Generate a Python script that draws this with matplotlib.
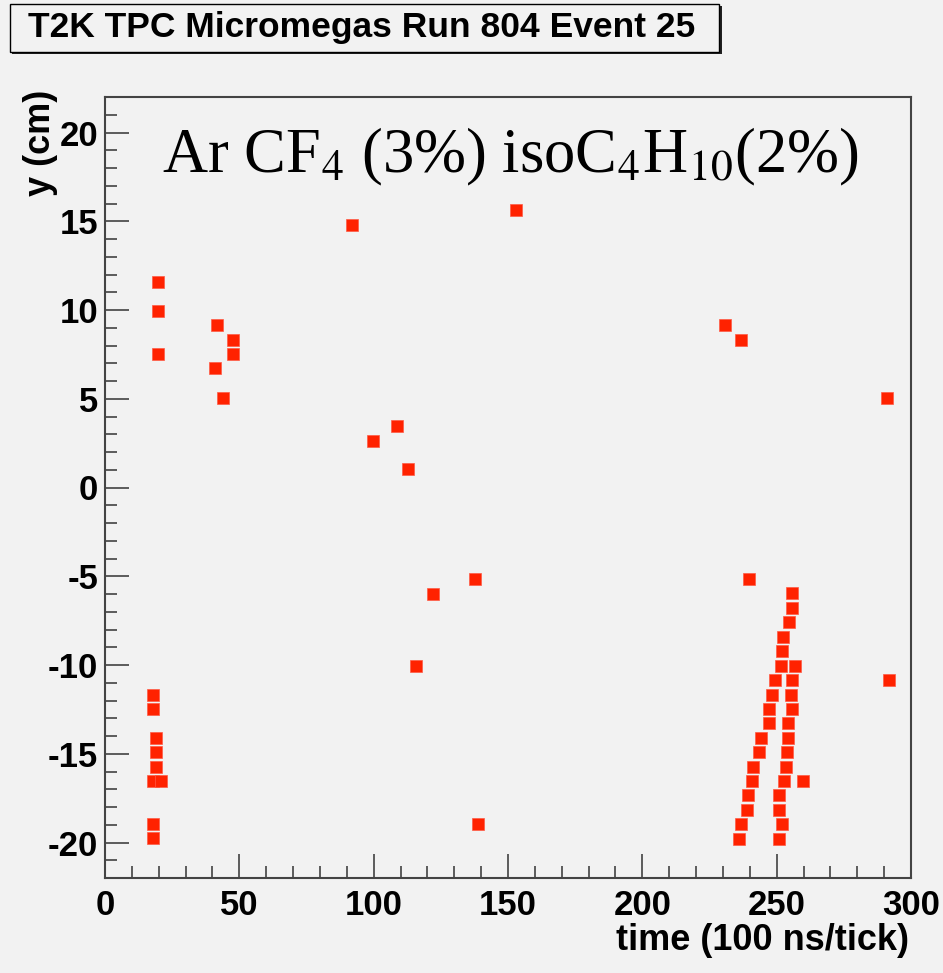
import matplotlib.pyplot as plt
from matplotlib.patches import Rectangle
from matplotlib.ticker import MultipleLocator

# hit positions read from the event display
time_tick = [19.8, 19.8, 19.8, 41.8, 47.75, 47.75, 40.8, 43.8,
             18.0, 18.0, 18.9, 18.9, 18.9, 18.0, 21.0, 18.0, 18.0,
             91.8, 152.8, 108.8, 99.7, 112.9, 137.8, 121.9, 115.9, 138.8,
             230.8, 236.8, 290.9, 291.9, 239.8, 259.8,
             255.8, 255.8, 254.7, 252.4, 251.8, 251.5, 256.8, 249.3, 255.8,
             248.2, 255.3, 247.1, 255.7, 247.2, 254.2, 244.3, 254.2,
             243.3, 253.8, 241.3, 253.3, 240.8, 252.8, 239.3, 250.8,
             238.8, 251.0, 236.9, 251.8, 235.8, 250.8]
y_cm = [11.57, 9.95, 7.5, 9.14, 8.32, 7.5, 6.71, 5.07,
        -11.68, -12.47, -14.1, -14.9, -15.72, -16.53, -16.53, -18.95, -19.76,
        14.81, 15.64, 3.46, 2.64, 1.03, -5.15, -5.98, -10.05, -18.97,
        9.14, 8.32, 5.07, -10.84, -5.13, -16.54,
        -5.96, -6.77, -7.6, -8.41, -9.2, -10.03, -10.03, -10.84, -10.84,
        -11.67, -11.67, -12.47, -12.47, -13.29, -13.29, -14.1, -14.1,
        -14.9, -14.9, -15.73, -15.73, -16.54, -16.54, -17.33, -17.33,
        -18.16, -18.16, -18.97, -18.97, -19.79, -19.79]

titel = "T2K TPC Micromegas Run 804 Event 25"
gas = r"Ar CF$_4$ (3%) isoC$_4$H$_{10}$(2%)"

plt.rcParams['font.family'] = ['Liberation Sans', 'DejaVu Sans']
plt.rcParams['mathtext.fontset'] = 'stix'
plt.rcParams['axes.unicode_minus'] = False

bg = '#f2f2f2'
W, H = 943, 973
fig = plt.figure(figsize=(9.43, 9.73), dpi=100, facecolor=bg)
ax = fig.add_axes([105/W, 1-878/H, (911-105)/W, (878-97)/H], facecolor=bg)

ax.plot(time_tick, y_cm, 's', color='#ff2200', markersize=8.3,
        markeredgecolor='#ff5a45', markeredgewidth=0.5, linestyle='none')

ax.set_xlim(0, 300)
ax.set_ylim(-22, 22)
ax.xaxis.set_major_locator(MultipleLocator(50))
ax.xaxis.set_minor_locator(MultipleLocator(10))
ax.yaxis.set_major_locator(MultipleLocator(5))
ax.yaxis.set_minor_locator(MultipleLocator(1))
ax.tick_params(which='both', direction='in', top=False, right=False,
               color='#333333', width=1.1, labelsize=25)
ax.tick_params(which='major', length=17)
ax.tick_params(which='minor', length=8.5)
ax.tick_params(axis='x', pad=8)
ax.tick_params(axis='y', pad=5)
for lbl in ax.get_xticklabels() + ax.get_yticklabels():
    lbl.set_fontweight('bold')
for s in ax.spines.values():
    s.set_color('#444444')
    s.set_linewidth(1.5)

# gas mixture label
ax.text(511/W, 1-172/H, gas, transform=fig.transFigure, ha='center',
        va='baseline', fontsize=45, fontweight='normal',
        family=['Liberation Serif', 'DejaVu Serif'])

# axis titles (ROOT style, right aligned)
fig.text(909/W, 1-940/H, 'time (100 ns/tick)', ha='right', va='center',
         fontsize=26, fontweight='bold')
fig.text(40/W, 1-90/H, 'y (cm)', ha='center', va='top', rotation=90,
         fontsize=26, fontweight='bold')

# title box with shadow
fig.patches.append(Rectangle((12/W, 1-54/H), 710/W, 48/H, transform=fig.transFigure,
                             facecolor='#222222', edgecolor='none', figure=fig))
fig.patches.append(Rectangle((10/W, 1-52/H), 709/W, 48/H, transform=fig.transFigure,
                             facecolor=bg, edgecolor='black', linewidth=1, figure=fig))
fig.text(28/W, 1-28/H, titel, ha='left', va='center', fontsize=25.5,
         fontweight='bold')

plt.savefig('out.png', dpi=100, facecolor=bg)
